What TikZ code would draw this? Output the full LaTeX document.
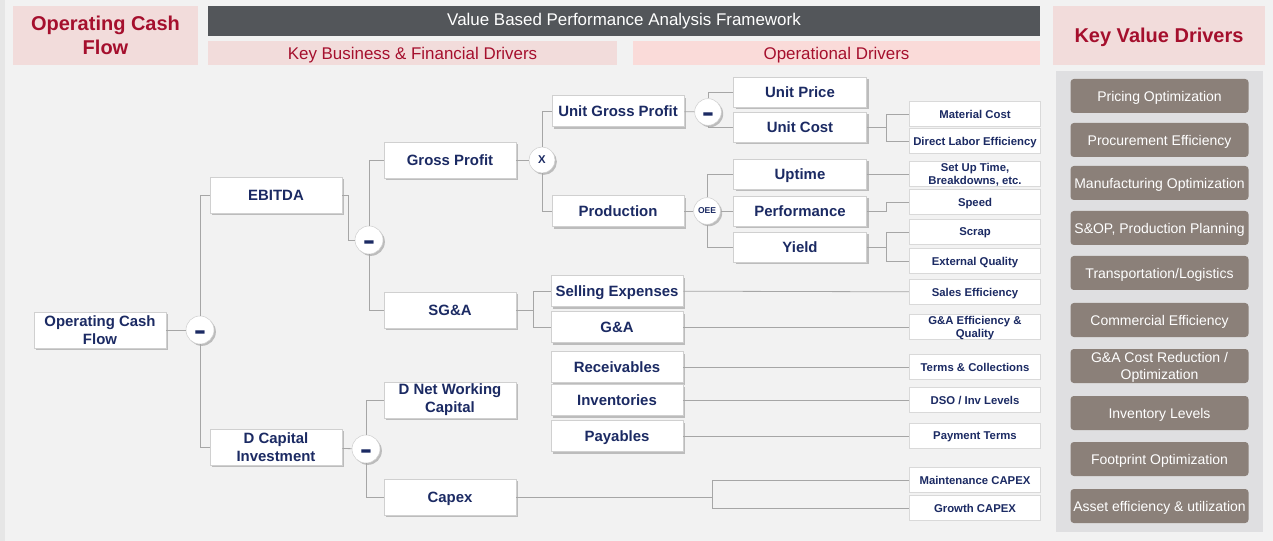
\documentclass[tikz,border=0pt]{standalone}
\usepackage{fontspec}
\setmainfont{Liberation Sans}
\usetikzlibrary{shadows}

\definecolor{canvas}{HTML}{F2F2F2}
\definecolor{edgegrey}{HTML}{E6E6E6}
\definecolor{navy}{HTML}{1B2A63}
\definecolor{darkred}{HTML}{A50F2D}
\definecolor{hdrpink}{HTML}{F2DCDB}
\definecolor{oppink}{HTML}{FADBD9}
\definecolor{barcol}{HTML}{53565A}
\definecolor{panel}{HTML}{DFDFE1}
\definecolor{kvdcol}{HTML}{8B8079}
\definecolor{linkcol}{HTML}{A6A6A6}
\definecolor{boxline}{HTML}{D0D0D0}
\definecolor{leafline}{HTML}{D9D9D9}

\begin{document}
\begin{tikzpicture}[x=0.75pt, y=-0.75pt,
  hdr/.style = {fill=hdrpink, text=darkred, align=center, inner sep=0pt,
    font=\fontsize{15}{18}\selectfont\bfseries},
  sub/.style = {fill=hdrpink, text=darkred, inner sep=0pt, minimum height=18pt,
    font=\fontsize{12.7}{15}\selectfont},
  box/.style = {draw=boxline, line width=0.5pt, fill=white, text=navy, align=center,
    inner sep=0pt, minimum width=99pt, minimum height=27pt,
    font=\fontsize{11.2}{13.5}\selectfont\bfseries,
    drop shadow={shadow xshift=1.6pt, shadow yshift=-1.6pt, fill=black, opacity=0.22}},
  mid/.style = {box, minimum height=23.25pt, text depth=0pt},
  unit/.style = {box, minimum width=99.75pt, minimum height=22.5pt, text depth=0pt},
  leaf/.style = {draw=leafline, line width=1.1pt, fill=white, text=navy, align=center,
    inner sep=0pt, minimum width=98pt, minimum height=18.5pt, text depth=0pt,
    font=\fontsize{8.5}{10.3}\selectfont\bfseries},
  op/.style = {circle, draw=boxline, line width=0.4pt, fill=white, text=navy,
    inner sep=0pt, minimum size=21pt, font=\fontsize{14}{14}\selectfont\bfseries,
    drop shadow={shadow xshift=1.4pt, shadow yshift=-1.4pt, fill=black, opacity=0.22}},
  kvd/.style = {fill=kvdcol, text=white, rounded corners=2.5pt, align=center,
    inner sep=0pt, minimum width=133.5pt, minimum height=25.5pt, text depth=0pt,
    font=\fontsize{10.5}{12.75}\selectfont},
  link/.style = {draw=linkcol, line width=0.6pt}]

  % canvas
  \fill[canvas] (0,0) rectangle (1273,541);
  \useasboundingbox (0,0) rectangle (1273,541);
  \fill[edgegrey] (0,0) rectangle (5,541);

  % headers
  \node[hdr, minimum width=138.75pt, minimum height=44.25pt] (ocfh) at (105.5,35.5) {Operating Cash\\Flow};
  \node[fill=barcol, text=white, inner sep=0pt, minimum width=624pt, minimum height=22.5pt,
    font=\fontsize{12.7}{15}\selectfont] (vbpa) at (624,21) {Value Based Performance Analysis Framework};
  \node[sub, minimum width=306.75pt, text depth=0pt] (kbf) at (412.5,53) {Key Business \& Financial Drivers};
  \node[sub, fill=oppink, minimum width=305.25pt, text depth=0pt] (opd) at (836.5,53) {Operational Drivers};
  \node[hdr, minimum width=159pt, minimum height=44.25pt, text depth=0pt] (kvdh) at (1159,35.5) {Key Value Drivers};

  % key value drivers panel
  \fill[panel] (1056,71) rectangle (1263,532);
  \node[kvd] (k1) at (1159.5,96) {Pricing Optimization};
  \node[kvd] (k2) at (1159.5,140) {Procurement Efficiency};
  \node[kvd] (k3) at (1159.5,183) {Manufacturing Optimization};
  \node[kvd] (k4) at (1159.5,228) {S\&OP, Production Planning};
  \node[kvd] (k5) at (1159.5,273) {Transportation/Logistics};
  \node[kvd] (k6) at (1159.5,320) {Commercial Efficiency};
  \node[kvd] (k7) at (1159.5,366) {G\&A Cost Reduction /\\Optimization};
  \node[kvd] (k8) at (1159.5,413) {Inventory Levels};
  \node[kvd] (k9) at (1159.5,459) {Footprint Optimization};
  \node[kvd] (k10) at (1159.5,506) {Asset efficiency \& utilization};

  % tree
  \node[box] (ocf) at (100,330) {Operating Cash\\Flow};
  \node[op] (m1) at (200,330) {\smash{\raisebox{-8.8pt}{\scalebox{1}[1.8]{--}}}};
  \node[box] (ebitda) at (276,195) {EBITDA};
  \node[box] (dcap) at (276,447) {D Capital\\Investment};
  \node[op] (m2) at (369,240) {\smash{\raisebox{-8.8pt}{\scalebox{1}[1.8]{--}}}};
  \node[op] (m3) at (366,449) {\smash{\raisebox{-8.8pt}{\scalebox{1}[1.8]{--}}}};
  \node[box] (gp) at (450,160) {Gross Profit};
  \node[box] (sga) at (450,310) {SG\&A};
  \node[box] (dnwc) at (450,400) {D Net Working\\Capital};
  \node[box, text depth=0pt] (capex) at (450,497) {Capex};
  \node[op, minimum size=19.5pt, font=\fontsize{8.5}{8.5}\selectfont\bfseries] (xop) at (542,160) {X};
  \node[mid] (ugp) at (618,111) {Unit Gross Profit};
  \node[mid] (prod) at (618,211) {Production};
  \node[op, minimum size=20pt] (m4) at (708,112) {\smash{\raisebox{-8.8pt}{\scalebox{1}[1.8]{--}}}};
  \node[op, minimum size=20pt, font=\fontsize{6.4}{6.4}\selectfont\bfseries] (oee) at (707,211) {OEE};
  \node[unit] (uprice) at (800,92) {Unit Price};
  \node[unit] (ucost) at (800,127) {Unit Cost};
  \node[unit] (uptime) at (800,174) {Uptime};
  \node[unit] (perf) at (800,211) {Performance};
  \node[unit] (yield) at (800,247) {Yield};
  \node[mid] (sell) at (617,291) {Selling Expenses};
  \node[mid] (gna) at (617,327) {G\&A};
  \node[mid] (recv) at (617,367) {Receivables};
  \node[mid] (inv) at (617,400) {Inventories};
  \node[mid] (pay) at (617,436) {Payables};

  % operational drivers
  \node[leaf] (mat) at (975,114) {Material Cost};
  \node[leaf] (dle) at (975,141) {Direct Labor Efficiency};
  \node[leaf] (setup) at (975,174) {Set Up Time,\\Breakdowns, etc.};
  \node[leaf] (speed) at (975,202) {Speed};
  \node[leaf] (scrap) at (975,232) {Scrap};
  \node[leaf] (extq) at (975,261) {External Quality};
  \node[leaf] (seff) at (975,292) {Sales Efficiency};
  \node[leaf] (gaeff) at (975,327) {G\&A Efficiency \&\\Quality};
  \node[leaf] (terms) at (975,367) {Terms \& Collections};
  \node[leaf] (dso) at (975,400) {DSO / Inv Levels};
  \node[leaf] (payt) at (975,436) {Payment Terms};
  \node[leaf] (maint) at (975,480) {Maintenance CAPEX};
  \node[leaf] (growth) at (975,508) {Growth CAPEX};

  % connectors
  \draw[link] (ocf) -- (m1);
  \draw[link] (m1.north) |- (ebitda.west);
  \draw[link] (m1.south) |- (dcap.west);
  \draw[link] (ebitda.east) -- ++(6,0) |- (m2.west);
  \draw[link] (m2.north) |- (gp.west);
  \draw[link] (m2.south) |- (sga.west);
  \draw[link] (dcap) -- (m3);
  \draw[link] (m3.north) |- (dnwc.west);
  \draw[link] (m3.south) |- (capex.west);
  \draw[link] (gp) -- (xop);
  \draw[link] (xop.north) |- (ugp.west);
  \draw[link] (xop.south) |- (prod.west);
  \draw[link] (ugp) -- (m4);
  \draw[link] (m4.north) |- (uprice.west);
  \draw[link] (m4.south) |- (ucost.west);
  \draw[link] (prod) -- (oee);
  \draw[link] (oee.north) |- (uptime.west);
  \draw[link] (oee) -- (perf);
  \draw[link] (oee.south) |- (yield.west);
  \draw[link] (ucost.east) -- ++(20,0) |- (mat.west);
  \draw[link] (ucost.east) ++(20,0) |- (dle.west);
  \draw[link] (uptime) -- (setup);
  \draw[link] (perf.east) -- ++(20,0) |- (speed.west);
  \draw[link] (yield.east) -- ++(20,0) |- (scrap.west);
  \draw[link] (yield.east) ++(20,0) |- (extq.west);
  \draw[link] (sga.east) -- ++(17,0) |- (sell.west);
  \draw[link] (sga.east) ++(17,0) |- (gna.west);
  \draw[link] (sell) -- (seff);
  \draw[link] (gna) -- (gaeff);
  \draw[link] (recv) -- (terms);
  \draw[link] (inv) -- (dso);
  \draw[link] (pay) -- (payt);
  \draw[link] (capex.east) -- ++(196,0) |- (maint.west);
  \draw[link] (capex.east) ++(196,0) |- (growth.west);
\end{tikzpicture}
\end{document}
